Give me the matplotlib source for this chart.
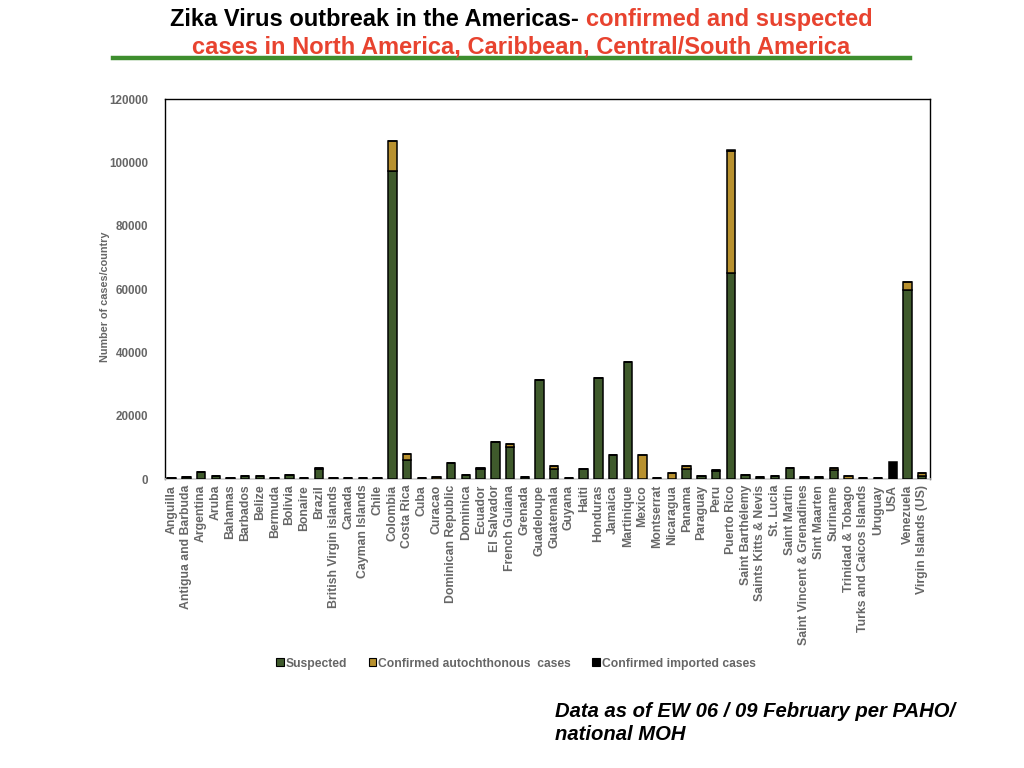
import matplotlib.pyplot as plt
from matplotlib.patches import Patch
import numpy as np

plt.rcParams['font.family'] = ['Liberation Sans', 'DejaVu Sans']

countries = [
    "Anguilla", "Antigua and Barbuda", "Argentina", "Aruba", "Bahamas", "Barbados",
    "Belize", "Bermuda", "Bolivia", "Bonaire", "Brazil", "British Virgin islands",
    "Canada", "Cayman Islands", "Chile", "Colombia", "Costa Rica", "Cuba", "Curacao",
    "Dominican Republic", "Dominica", "Ecuador", "El Salvador", "French Guiana",
    "Grenada", "Guadeloupe", "Guatemala", "Guyana", "Haiti", "Honduras", "Jamaica",
    "Martinique", "Mexico", "Montserrat", "Nicaragua", "Panama", "Paraguay", "Peru",
    "Puerto Rico", "Saint Barthélemy", "Saints Kitts & Nevis", "St. Lucia",
    "Saint Martin", "Saint Vincent & Grenadines", "Sint Maarten", "Suriname",
    "Trinidad & Tobago", "Turks and Caicos Islands", "Uruguay", "USA", "Venezuela",
    "Virgin Islands (US)",
]

suspected = [
    350, 650, 2400, 900, 350, 900,
    900, 350, 1200, 350, 3100, 350,
    350, 350, 350, 97200, 6000, 350, 0,
    5000, 1200, 3200, 11600, 10300,
    650, 31300, 3300, 350, 3100, 32100, 7500,
    36900, 0, 350, 0, 3300, 900, 2500,
    65100, 1200, 650, 900,
    3400, 650, 650, 2800,
    0, 350, 350, 0, 59800,
    1000,
]

confirmed_auto = [
    0, 0, 0, 0, 0, 0,
    0, 0, 0, 0, 400, 0,
    0, 0, 0, 9700, 1900, 0, 600,
    0, 0, 450, 0, 700,
    0, 0, 800, 0, 0, 0, 0,
    0, 7800, 0, 2100, 1000, 0, 450,
    38600, 0, 0, 0,
    0, 0, 0, 600,
    900, 0, 0, 0, 2500,
    1100,
]

confirmed_imported = [0] * len(countries)
confirmed_imported[countries.index("USA")] = 5400
confirmed_imported[countries.index("Puerto Rico")] = 200

green = '#3F5A2C'
tan = '#B8912F'
gray = '#666666'

fig = plt.figure(figsize=(10.24, 7.68), dpi=100)
ax = fig.add_axes([0.161, 0.376, 0.747, 0.495])

x = np.arange(len(countries))
w = 0.57
s = np.array(suspected)
c = np.array(confirmed_auto)
imp = np.array(confirmed_imported)
ax.bar(x, s, w, color=green, edgecolor='black', linewidth=1.1, zorder=3)
ax.bar(x, c, w, bottom=s, color=tan, edgecolor='black', linewidth=1.1, zorder=3)
ax.bar(x, imp, w, bottom=s + c, color='black', edgecolor='black', linewidth=1.1, zorder=3)

ax.set_xlim(-0.46, 51.52)
ax.set_ylim(0, 120000)
ax.set_yticks(range(0, 120001, 20000))
ax.set_xticks(x)
ax.set_xticklabels(countries, rotation=90, fontsize=8.8, fontweight='bold', color=gray)
ax.tick_params(axis='y', length=0, labelsize=8.4, labelcolor=gray, pad=12)
ax.tick_params(axis='x', length=0, pad=4)
for lbl in ax.get_yticklabels():
    lbl.set_fontweight('bold')
ax.set_ylabel("Number of cases/country", fontsize=7.8, fontweight='bold', color=gray)
ax.yaxis.set_label_coords(-0.072, 0.48)
for side in ['left', 'top', 'right']:
    ax.spines[side].set_color('black')
    ax.spines[side].set_linewidth(1)
ax.spines['bottom'].set_color('#cccccc')
ax.spines['bottom'].set_linewidth(1.2)

# legend
handles = [Patch(facecolor=green, edgecolor='black', linewidth=0.8, label='Suspected'),
           Patch(facecolor=tan, edgecolor='black', linewidth=0.8, label='Confirmed autochthonous  cases'),
           Patch(facecolor='black', edgecolor='black', linewidth=0.8, label='Confirmed imported cases')]
leg = fig.legend(handles=handles, loc='center', bbox_to_anchor=(0.504, 0.136), ncol=3,
                 frameon=False, handlelength=0.6, handleheight=0.6, handletextpad=0.2,
                 columnspacing=1.75, prop={'size': 8.7, 'weight': 'bold'})
for t in leg.get_texts():
    t.set_color(gray)

# title, two colours on the first line
title_font = dict(fontsize=17, fontweight='bold')
red = '#E8432F'
renderer = fig.canvas.get_renderer()
t1 = fig.text(0, 0.975, "Zika Virus outbreak in the Americas- ", color='black', va='center', **title_font)
t2 = fig.text(0, 0.975, "confirmed and suspected", color=red, va='center', **title_font)
w1 = t1.get_window_extent(renderer).width / fig.bbox.width
w2 = t2.get_window_extent(renderer).width / fig.bbox.width
x0 = 0.509 - (w1 + w2) / 2
t1.set_x(x0)
t2.set_x(x0 + w1)
fig.text(0.509, 0.939, "cases in North America, Caribbean, Central/South America",
         color=red, ha='center', va='center', **title_font)
fig.add_artist(plt.Line2D([0.11, 0.889], [0.924, 0.924], color='#3E8E2E', linewidth=3.2))

fig.text(0.542, 0.059, "Data as of EW 06 / 09 February per PAHO/\nnational MOH",
         fontsize=14.6, fontweight='bold', fontstyle='italic', ha='left', va='center',
         linespacing=1.25)

fig.savefig('out.png', dpi=100)
